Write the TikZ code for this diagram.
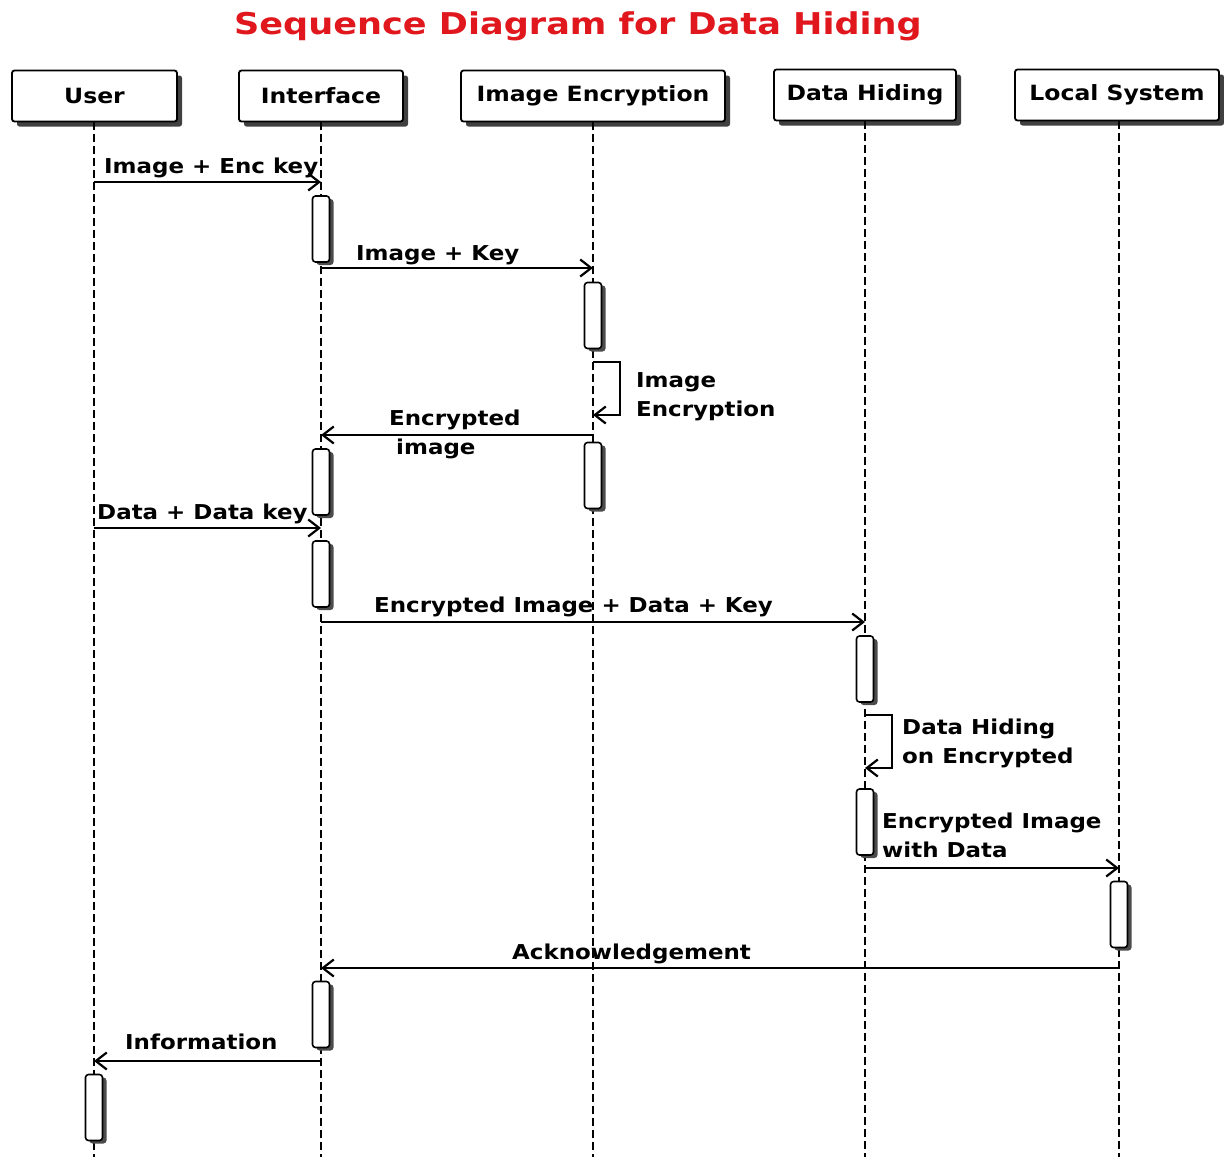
\documentclass[tikz,border=0pt]{standalone}
\usepackage{fontspec}
\setmainfont{DejaVu Sans}
\newfontfamily\lblfont[FakeStretch=1.12]{DejaVu Sans}
\newfontfamily\titlefont[FakeStretch=1.17]{DejaVu Sans}
\usetikzlibrary{arrows.meta,shadows}

\definecolor{titlered}{HTML}{E0171D}

\begin{document}
\begin{tikzpicture}[x=1pt,y=-1pt,
  lbl/.style={font=\lblfont\bfseries\fontsize{20.5}{28.5}\selectfont, inner sep=0pt, align=left},
  head/.style={draw, line width=1.8pt, rounded corners=2.5pt, fill=white,
    minimum height=51pt, inner sep=0pt, font=\lblfont\bfseries\fontsize{21}{24}\selectfont,
    general shadow={shadow xshift=5pt, shadow yshift=-5pt, fill=black!75}},
  act/.style={draw, line width=1.6pt, rounded corners=3pt, fill=white,
    minimum width=17pt, minimum height=66pt, inner sep=0pt,
    general shadow={shadow xshift=4pt, shadow yshift=-3pt, fill=black!70}},
  life/.style={line width=1.8pt, dash pattern=on 8pt off 4pt},
  msg/.style={line width=1.8pt, -{Straight Barb[length=11pt,width=17pt,line width=2.2pt]}}
]
\useasboundingbox (0,0) rectangle (1224,1157);

% title
\node[text=titlered, font=\titlefont\bfseries\fontsize{30}{34}\selectfont, inner sep=0pt] (title) at (578,26) {Sequence Diagram for Data Hiding};

% participant boxes
\node[head, minimum width=165pt] (user) at (94.5,96) {User};
\node[head, minimum width=164pt] (iface) at (321,96) {Interface};
\node[head, minimum width=264pt] (enc) at (593,96) {Image Encryption};
\node[head, minimum width=182pt] (hide) at (865,95) {Data Hiding};
\node[head, minimum width=204pt] (local) at (1117,95) {Local System};

% lifelines
\coordinate (userEnd) at (94,1157);
\coordinate (ifaceEnd) at (321,1157);
\coordinate (encEnd) at (593,1157);
\coordinate (hideEnd) at (865,1157);
\coordinate (localEnd) at (1119,1157);
\draw[life] (user.south -| userEnd) -- (userEnd);
\draw[life] (iface.south -| ifaceEnd) -- (ifaceEnd);
\draw[life] (enc.south -| encEnd) -- (encEnd);
\draw[life] (hide.south -| hideEnd) -- (hideEnd);
\draw[life] (local.south -| localEnd) -- (localEnd);

% activation bars
\node[act] (a1) at (321,229) {};
\node[act] (a2) at (593,315.5) {};
\node[act] (a3) at (593,475.5) {};
\node[act] (a4) at (321,482) {};
\node[act] (a5) at (321,574) {};
\node[act] (a6) at (865,669) {};
\node[act] (a7) at (865,822) {};
\node[act] (a8) at (1119,914.5) {};
\node[act] (a9) at (321,1014.5) {};
\node[act] (a10) at (94,1107.5) {};

% message anchor points on the lifelines
\coordinate (m1s) at (94,182);   \coordinate (m1e) at (321,182);
\coordinate (m2s) at (321,268);  \coordinate (m2e) at (593,268);
\coordinate (s1s) at (593,362);  \coordinate (s1e) at (593,415);
\coordinate (m3s) at (593,435);  \coordinate (m3e) at (321,435);
\coordinate (m4s) at (94,528);   \coordinate (m4e) at (321,528);
\coordinate (m5s) at (321,622);  \coordinate (m5e) at (865,622);
\coordinate (s2s) at (865,715);  \coordinate (s2e) at (865,768);
\coordinate (m6s) at (865,868);  \coordinate (m6e) at (1119,868);
\coordinate (m7s) at (1119,968); \coordinate (m7e) at (321,968);
\coordinate (m8s) at (321,1061); \coordinate (m8e) at (94,1061);

% messages
\draw[msg] (m1s) -- (m1e);
\draw[msg] (m2s) -- (m2e);
\draw[msg] (s1s) -- ++(27,0) |- (s1e);
\draw[msg] (m3s) -- (m3e);
\draw[msg] (m4s) -- (m4e);
\draw[msg] (m5s) -- (m5e);
\draw[msg] (s2s) -- ++(27,0) |- (s2e);
\draw[msg] (m6s) -- (m6e);
\draw[msg] (m7s) -- (m7e);
\draw[msg] (m8s) -- (m8e);

% message labels (two-line labels are anchored at their last baseline)
\node[lbl, anchor=base west] (l1) at (104,173) {Image + Enc key};
\node[lbl, anchor=base west] (l2) at (356,260) {Image + Key};
\node[lbl, anchor=base west] (l3) at (636,416) {Image\\Encryption};
\node[lbl, anchor=base west] (l4a) at (389,425) {Encrypted};
\node[lbl, anchor=base west] (l4b) at (396,454) {image};
\node[lbl, anchor=base west] (l5) at (97,519) {Data + Data key};
\node[lbl, anchor=base west] (l6) at (374,612) {Encrypted Image + Data + Key};
\node[lbl, anchor=base west] (l7) at (902,763) {Data Hiding\\on Encrypted};
\node[lbl, anchor=base west] (l8) at (882,857) {Encrypted Image\\with Data};
\node[lbl, anchor=base west] (l9) at (512,959) {Acknowledgement};
\node[lbl, anchor=base west] (l10) at (125,1049) {Information};
\end{tikzpicture}
\end{document}
